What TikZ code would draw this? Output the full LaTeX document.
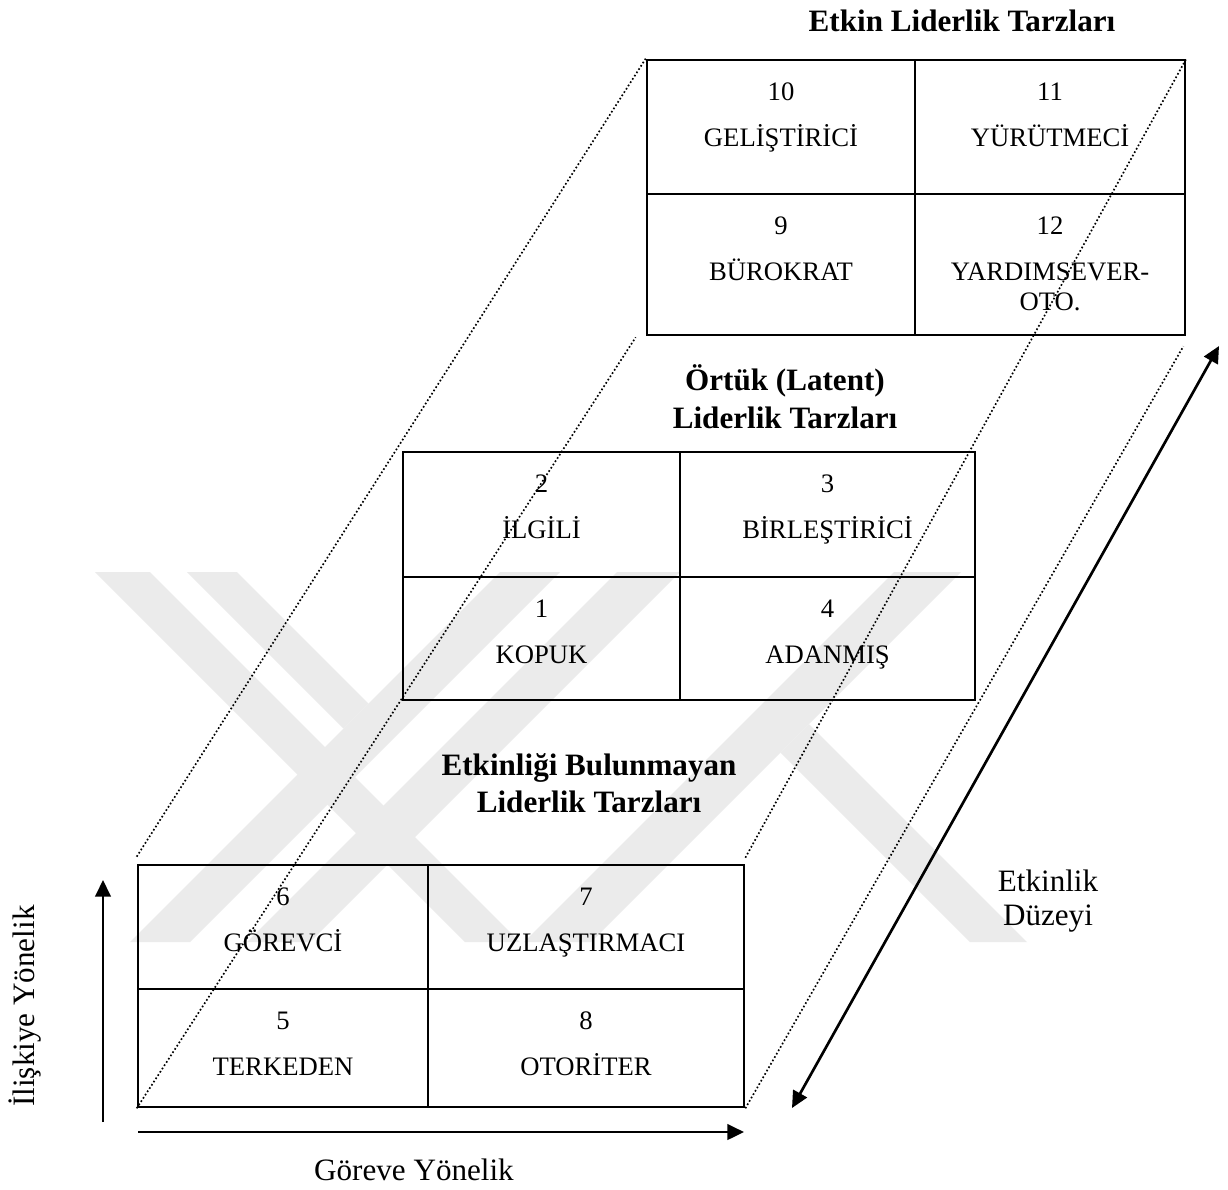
\documentclass[tikz,border=0pt]{standalone}
\usepackage{fontspec}
\setmainfont{Liberation Serif}
\usetikzlibrary{arrows.meta,calc,fit}

\begin{document}
\begin{tikzpicture}[x=0.45pt,y=-0.45pt,
  cell/.style={draw, line width=1.2pt, inner sep=0pt},
  num/.style={anchor=base, inner sep=0pt, font=\fontsize{12}{14}\selectfont},
  ttl/.style={anchor=base, inner sep=0pt, font=\fontsize{14}{17}\selectfont\bfseries},
  lbl/.style={anchor=base, inner sep=0pt, font=\fontsize{14}{17}\selectfont},
  guide/.style={line width=0.75pt, dash pattern=on 0.75pt off 1pt},
  tip/.tip={Triangle[length=7.5pt,width=7pt]},
  axis/.style={line width=1.2pt, -tip},
  wm/.style={fill=black!8},
]
\useasboundingbox (0,0) rectangle (1228,1189);
\fill[white] (0,0) rectangle (1228,1189);

% faint background emblem
\fill[wm] (95,572) -- (150,572) -- (520,942) -- (465,942) -- cycle;
\fill[wm] (500,572) -- (560,572) -- (190,942) -- (130,942) -- cycle;
\fill[wm] (187,572) -- (237,572) -- (368.5,703.5) -- (343.5,728.5) -- cycle;
\fill[wm] (617,572) -- (680,572) -- (310,942) -- (247,942) -- cycle;
\fill[wm] (894,572) -- (961,572) -- (591,942) -- (524,942) -- cycle;
\fill[wm] (809,724) -- (1027,942) -- (970,942) -- (780.5,752.5) -- cycle;

% effective styles (top grid)
\node[cell, fit={(647,60) (915,194)}]   (c10) {};
\node[cell, fit={(915,60) (1185,194)}]  (c11) {};
\node[cell, fit={(647,194) (915,335)}]  (c9)  {};
\node[cell, fit={(915,194) (1185,335)}] (c12) {};

% latent styles (middle grid)
\node[cell, fit={(403,452) (680,577)}] (c2) {};
\node[cell, fit={(680,452) (975,577)}] (c3) {};
\node[cell, fit={(403,577) (680,700)}] (c1) {};
\node[cell, fit={(680,577) (975,700)}] (c4) {};

% ineffective styles (bottom grid)
\node[cell, fit={(138,865) (428,989)}]  (c6) {};
\node[cell, fit={(428,865) (744,989)}]  (c7) {};
\node[cell, fit={(138,989) (428,1107)}] (c5) {};
\node[cell, fit={(428,989) (744,1107)}] (c8) {};

% cell texts
\node[num] (n10) at ($(c10.north)+(0,41.5)$) {10};
\node[num] (s10) at ($(c10.north)+(0,88)$) {GELİŞTİRİCİ};
\node[num] (n11) at ($(c11.north)+(0,41.5)$) {11};
\node[num] (s11) at ($(c11.north)+(0,88)$) {YÜRÜTMECİ};
\node[num] (n9)  at ($(c9.north)+(0,41.5)$) {9};
\node[num] (s9)  at ($(c9.north)+(0,88)$) {BÜROKRAT};
\node[num] (n12) at ($(c12.north)+(0,41.5)$) {12};
\node[num] (s12) at ($(c12.north)+(0,88)$) {YARDIMSEVER-};
\node[num] (s12b) at ($(c12.north)+(0,118)$) {OTO.};

\node[num] (n2) at ($(c2.north)+(0,41.5)$) {2};
\node[num] (s2) at ($(c2.north)+(0,88)$) {İLGİLİ};
\node[num] (n3) at ($(c3.north)+(0,41.5)$) {3};
\node[num] (s3) at ($(c3.north)+(0,88)$) {BİRLEŞTİRİCİ};
\node[num] (n1) at ($(c1.north)+(0,41.5)$) {1};
\node[num] (s1) at ($(c1.north)+(0,88)$) {KOPUK};
\node[num] (n4) at ($(c4.north)+(0,41.5)$) {4};
\node[num] (s4) at ($(c4.north)+(0,88)$) {ADANMIŞ};

\node[num] (n6) at ($(c6.north)+(0,41.5)$) {6};
\node[num] (s6) at ($(c6.north)+(0,88)$) {GÖREVCİ};
\node[num] (n7) at ($(c7.north)+(0,41.5)$) {7};
\node[num] (s7) at ($(c7.north)+(0,88)$) {UZLAŞTIRMACI};
\node[num] (n5) at ($(c5.north)+(0,41.5)$) {5};
\node[num] (s5) at ($(c5.north)+(0,88)$) {TERKEDEN};
\node[num] (n8) at ($(c8.north)+(0,41.5)$) {8};
\node[num] (s8) at ($(c8.north)+(0,88)$) {OTORİTER};

% titles
\node[ttl] (ttop)  at (962,31)  {Etkin Liderlik Tarzları};
\node[ttl] (tmid1) at (785,390) {Örtük (Latent)};
\node[ttl] (tmid2) at (785,428) {Liderlik Tarzları};
\node[ttl] (tbot1) at (589,775) {Etkinliği Bulunmayan};
\node[ttl] (tbot2) at (589,812) {Liderlik Tarzları};

% dotted projection lines between the grids
\draw[guide] ($(c6.north west)+(0,-7)$) -- (c10.north west);
\draw[guide] (c5.south west) -- ($(c9.south west)+(-10,1)$);
\draw[guide] ($(c7.north east)+(0,-6)$) -- (c11.north east);
\draw[guide] (c8.south east) -- ($(c12.south east)+(-3,10)$);

% axes
\coordinate (ylo) at (103,1122);
\coordinate (yhi) at (103,880);
\coordinate (xlo) at (138,1132);
\coordinate (xhi) at (744,1132);
\coordinate (elo) at (792,1108);
\coordinate (ehi) at (1219,346);
\draw[axis] (ylo) -- (yhi);
\draw[axis] (xlo) -- (xhi);
\draw[axis, tip-tip] (elo) -- (ehi);

% axis labels
\node[lbl, rotate=90] (lrel) at (35,1006) {İlişkiye Yönelik};
\node[lbl] (ltask) at (414,1180) {Göreve Yönelik};
\node[lbl] (leff1) at (1048,891) {Etkinlik};
\node[lbl] (leff2) at (1048,925) {Düzeyi};
\end{tikzpicture}
\end{document}
